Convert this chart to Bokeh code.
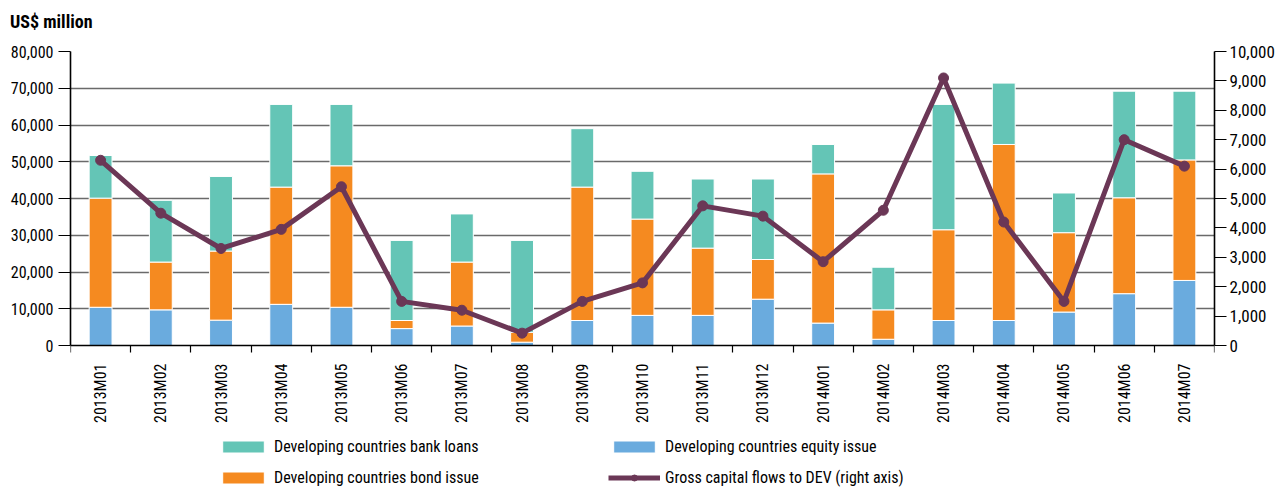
import math
from bokeh.plotting import figure
from bokeh.layouts import column
from bokeh.models import (ColumnDataSource, Range1d, LinearAxis, FixedTicker,
                          NumeralTickFormatter, Legend, LegendItem, Div)
from bokeh.embed import file_html
from bokeh.resources import INLINE

months = ["2013M01", "2013M02", "2013M03", "2013M04", "2013M05", "2013M06", "2013M07",
          "2013M08", "2013M09", "2013M10", "2013M11", "2013M12", "2014M01", "2014M02",
          "2014M03", "2014M04", "2014M05", "2014M06", "2014M07"]
equity_issue = [10400, 9700, 6900, 11200, 10400, 4600, 5300, 900, 6800, 8200, 8200, 12600,
                6100, 1700, 6800, 6800, 9100, 14100, 17700]
bond_issue = [29700, 13000, 18800, 31900, 38500, 2200, 17400, 2700, 36300, 26200, 18300, 10800,
              40600, 8000, 24700, 47900, 21600, 26100, 32800]
bank_loans = [11600, 16800, 20300, 22500, 16700, 21800, 13100, 25000, 15900, 13000, 18800, 21900,
              8000, 11600, 34100, 16700, 10800, 29000, 18700]
gross_flows = [6300, 4500, 3300, 3950, 5400, 1500, 1200, 420, 1500, 2130, 4750, 4400,
               2850, 4600, 9100, 4200, 1500, 7000, 6100]
left_ticks = [0, 10000, 20000, 30000, 40000, 50000, 60000, 70000, 80000]
right_ticks = [0, 1000, 2000, 3000, 4000, 5000, 6000, 7000, 8000, 9000, 10000]

FONT = "Roboto Condensed"
C_LOANS = "#64c5b6"
C_BOND = "#f58a20"
C_EQUITY = "#6aabde"
C_LINE = "#6b3756"

# layout geometry (pixels)
TITLE_H = 30
W = 1277
H = 487 - TITLE_H
TOP, LEFT, RIGHT = 21, 70, 60
FRAME_H = H - TOP
PLOT_H = 294                      # pixel height of the 0..80,000 band
LMAX, RMAX = 80000, 10000
lmin = -LMAX * (FRAME_H - PLOT_H) / PLOT_H
rmin = lmin * RMAX / LMAX

n = len(months)
centers = [i + 0.5 for i in range(n)]
bounds = [float(i) for i in range(n + 1)]

src = ColumnDataSource(dict(x=centers, equity=equity_issue, bond=bond_issue,
                            loans=bank_loans, flows=gross_flows))

title = Div(text="US$ million", width=300, height=TITLE_H, margin=(0, 0, 0, 0),
            styles={"font-family": FONT, "font-size": "18px", "font-weight": "bold",
                    "color": "black", "padding-left": "10px", "padding-top": "12px",
                    "line-height": "1.1", "white-space": "nowrap"})

p = figure(width=W, height=H, output_backend="svg", toolbar_location=None,
           x_range=Range1d(0, n), y_range=Range1d(lmin, LMAX), x_axis_location=None,
           min_border_left=LEFT, min_border_right=RIGHT, min_border_top=TOP, min_border_bottom=0,
           outline_line_color=None, background_fill_color="white", margin=(0, 0, 0, 0))
p.extra_y_ranges = {"right": Range1d(rmin, RMAX)}

renderers = p.vbar_stack(["equity", "bond", "loans"], x="x", width=0.38,
                         color=[C_EQUITY, C_BOND, C_LOANS], line_color="white",
                         line_width=1, source=src)
line_r = p.line("x", "flows", source=src, y_range_name="right", line_color=C_LINE, line_width=5)
dot_r = p.scatter("x", "flows", source=src, y_range_name="right", size=10,
                  fill_color=C_LINE, line_color=C_LINE)

p.xgrid.grid_line_color = None
p.ygrid.ticker = FixedTicker(ticks=left_ticks[1:])
p.ygrid.grid_line_color = "#6a6a6a"
p.ygrid.grid_line_width = 1.6

# x axis fixed at y = 0 inside the frame
xa = LinearAxis(fixed_location=0, ticker=FixedTicker(ticks=centers, minor_ticks=bounds))
xa.major_label_overrides = {c: m for c, m in zip(centers, months)}
xa.major_tick_line_color = None
xa.minor_tick_out = 7
xa.minor_tick_in = 0
xa.minor_tick_line_color = "black"
xa.minor_tick_line_width = 1.2
xa.axis_line_color = "black"
xa.axis_line_width = 1.6
xa.major_label_orientation = math.pi / 2
xa.major_label_text_font = FONT
xa.major_label_text_font_size = "16px"
xa.major_label_text_color = "black"
xa.major_label_standoff = 11
p.add_layout(xa, "below")

ya = p.yaxis[0]
ya.ticker = FixedTicker(ticks=left_ticks)
ya.bounds = (0, LMAX)
ya.formatter = NumeralTickFormatter(format="0,0")
ya.major_tick_out = 12
ya.major_tick_in = 0
ya.minor_tick_line_color = None
ya.major_tick_line_color = "black"
ya.axis_line_color = "black"
ya.axis_line_width = 1.6
ya.major_label_text_font = FONT
ya.major_label_text_font_size = "16px"
ya.major_label_text_color = "black"
ya.major_label_standoff = 5

ra = LinearAxis(y_range_name="right", ticker=FixedTicker(ticks=right_ticks),
                formatter=NumeralTickFormatter(format="0,0"), bounds=(0, RMAX))
ra.major_tick_out = 12
ra.major_tick_in = 0
ra.minor_tick_line_color = None
ra.major_tick_line_color = "black"
ra.axis_line_color = "black"
ra.axis_line_width = 1.6
ra.major_label_text_font = FONT
ra.major_label_text_font_size = "17px"
ra.major_label_text_color = "black"
ra.major_label_standoff = 3
p.add_layout(ra, "right")


def make_legend(items, loc):
    return Legend(items=items, location=loc, orientation="vertical",
                  glyph_width=52, glyph_height=15, label_standoff=5, spacing=12,
                  padding=0, margin=0, border_line_color=None, background_fill_alpha=0,
                  label_text_font=FONT, label_text_font_size="16px", label_text_color="black",
                  label_height=15)


leg1 = make_legend([LegendItem(label="Developing countries bank loans", renderers=[renderers[2]]),
                    LegendItem(label="Developing countries bond issue", renderers=[renderers[1]])],
                   (147, 0))
leg2 = make_legend([LegendItem(label="Developing countries equity issue", renderers=[renderers[0]]),
                    LegendItem(label="Gross capital flows to DEV (right axis)", renderers=[line_r, dot_r])],
                   (538, 0))
p.add_layout(leg1)
p.add_layout(leg2)

layout = column(title, p, spacing=0, margin=(0, 0, 0, 0))
open("out.html", "w").write(file_html(layout, INLINE))
